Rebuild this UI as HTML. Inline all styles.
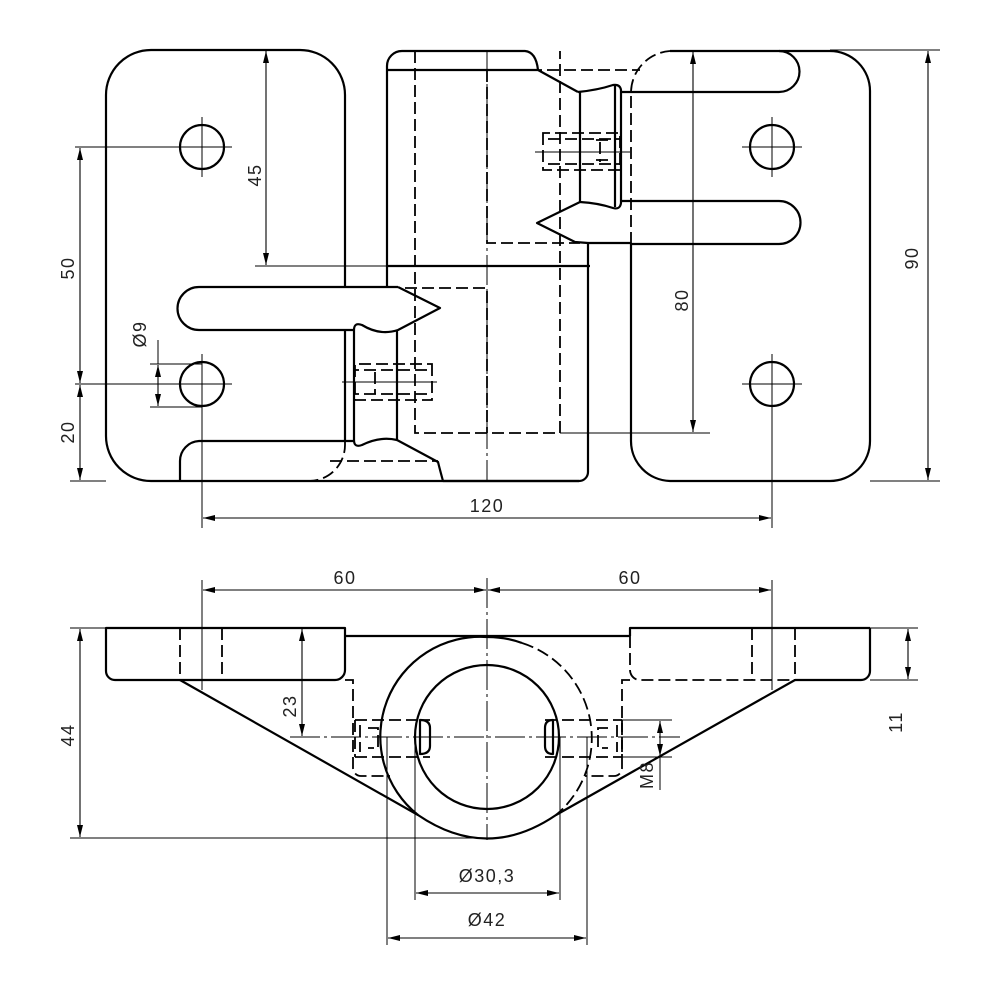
<!DOCTYPE html>
<html><head><meta charset="utf-8"><style>
html,body{margin:0;padding:0;background:#fff}
svg{display:block}
text{font-family:"Liberation Sans",sans-serif;font-size:18px;fill:#222;letter-spacing:1.5px}
</style></head><body>
<svg width="1000" height="1000" viewBox="0 0 1000 1000" xmlns="http://www.w3.org/2000/svg">
<defs>
<marker id="a" viewBox="0 0 12 6" refX="12" refY="3" markerWidth="12" markerHeight="6" orient="auto-start-reverse" markerUnits="userSpaceOnUse"><path d="M0,0 L12,3 L0,6z" fill="#000"/></marker>
</defs>
<g fill="none" stroke="#000" stroke-width="2.2" stroke-linejoin="round">
<path d="M345,288 L345,95 A45,45 0 0 0 300,50 L151,50 A45,45 0 0 0 106,95 L106,436 A45,45 0 0 0 151,481 L579,481"/>
<path d="M345,330 L345,441"/>
<path d="M398,287 L199,287 A21,21 0 0 0 199,330 L355,330"/>
<path d="M355,441 L199,441 A20,20 0 0 0 180,461 L180,481"/>
<path d="M670,51 L830,51 A40,40 0 0 1 870,91 L870,441 A40,40 0 0 1 830,481 L670,481 A40,40 0 0 1 631,441 L631,244"/>
<path d="M620,92 L779,92 A20.5,20.5 0 0 0 779,51"/>
<path d="M588,243 L631,243 M620,201 L779,201 A21.5,21.5 0 0 1 779,244 L631,244"/>
<path d="M387,288 L387,66 A15,15 0 0 1 402,51 L525,51 Q536,52 538,70"/>
<path d="M387,70 L538,70 L578,92"/>
<path d="M387,266 L590,266"/>
<path d="M588,243 L588,472 A9,9 0 0 1 579,481 L443,481 Q440,470 438,462 L397,440"/>
<path d="M580,92 L580,202 M578,92 Q598,90 613,85 Q620,84 621,90 L621,203 Q620,210 613,208 Q598,203 580,202"/>
<path d="M615,86 L615,207"/>
<path d="M580,202 L537,223 L575,242 L588,243"/>
<path d="M398,287 L440,308 L398,330 Q380,336 362,325 Q354,322 354,330 L354,440 Q354,448 362,445 Q380,436 397,440 L397,330"/>
<circle cx="202" cy="147" r="22"/><circle cx="202" cy="384" r="22"/>
<circle cx="772" cy="147" r="22"/><circle cx="772" cy="384" r="22"/>
</g>
<g fill="none" stroke="#000" stroke-width="1.8" stroke-dasharray="12,5">
<path d="M415,51 L415,433 L560,433 L560,51"/>
<path d="M487,70 L487,243 L580,243"/>
<path d="M530,70 L640,70"/>
<path d="M405,288 L487,288 L487,433"/>
<path d="M330,461 L438,461"/>
<path d="M345,441 L345,445 A36,36 0 0 1 309,481"/>
<path d="M631,244 L631,92 A42,42 0 0 1 670,51"/>
<path d="M543,133 L543,170 L620,170 L620,133 Z M548,139 L620,139 M548,164 L620,164 M600,142 L600,162 M596,140 L610,140 M596,160 L610,160"/>
<path d="M432,364 L432,400 L355,400 L355,364 Z M427,370 L355,370 M427,394 L355,394 M375,372 L375,394"/>
</g>
<g fill="none" stroke="#000" stroke-width="1" stroke-dasharray="30,4,3,4">
<path d="M487,50 L487,481"/>
</g>
<g fill="none" stroke="#000" stroke-width="1">
<path d="M172,147 L232,147 M202,117 L202,177 M742,147 L802,147 M772,117 L772,177 M742,384 L802,384 M772,354 L772,528"/>
<path d="M172,384 L232,384 M202,354 L202,528"/>
<path d="M535,152 L630,152 M342,382 L437,382"/>
<path d="M255,266 L387,266"/>
<path d="M75,147 L202,147 M75,384 L202,384 M70,481 L106,481 M150,364 L202,364 M150,407 L202,407"/>
<path d="M560,433 L710,433 M830,50 L940,50 M870,481 L940,481"/>
<path d="M158,340 L158,364"/>
<path d="M660,757 L660,790"/>
</g>
<g fill="none" stroke="#000" stroke-width="1.1" marker-start="url(#a)" marker-end="url(#a)">
<path d="M266,51 L266,265"/>
<path d="M80,148 L80,383"/>
<path d="M80,385 L80,480"/>
<path d="M693,52 L693,432"/>
<path d="M928,51 L928,480"/>
<path d="M203,518 L771,518"/>
<path d="M203,590 L486,590"/>
<path d="M488,590 L771,590"/>
<path d="M80,629 L80,837"/>
<path d="M302,629 L302,736"/>
<path d="M908,629 L908,679"/>
<path d="M416,893 L559,893"/>
<path d="M388,938 L586,938"/>
<path d="M158,365 L158,406"/>
<path d="M660,721 L660,756"/>
</g>
<g fill="none" stroke="#000" stroke-width="2.2" stroke-linejoin="round">
<path d="M106,628 L345,628 L345,670 A10,10 0 0 1 335,680 L115,680 A9,9 0 0 1 106,671 Z"/>
<path d="M870,628 L630,628 L630,636"/>
<path d="M870,628 L870,671 A9,9 0 0 1 861,680 L795,680"/>
<path d="M345,636 L630,636"/>
<path d="M180,680 L418,815 Q487,862 556,815 L795,680"/>
<path d="M487,637 A100,100 0 0 0 418,815 M487,637 A100,100 0 0 1 522,643"/>
<circle cx="487" cy="737" r="72"/>
<path d="M420,720 Q430,720 430,728 L430,746 Q430,754 420,754 Z"/>
<path d="M553,720 Q545,720 545,728 L545,746 Q545,754 553,754 Z"/>
</g>
<g fill="none" stroke="#000" stroke-width="1.8" stroke-dasharray="12,5">
<path d="M522,643 A100,100 0 0 1 556,815"/>
<path d="M180,628 L180,680 M222,628 L222,680 M752,628 L752,680 M795,628 L795,680"/>
<path d="M630,636 L630,670 A10,10 0 0 0 640,680 L795,680"/>
<path d="M345,680 L353,680 L353,768 A8,8 0 0 0 361,776 L390,776"/>
<path d="M630,680 L622,680 L622,768 A8,8 0 0 1 614,776 L585,776"/>
<path d="M355,720 L430,720 M355,757 L430,757 M355,720 L355,757 M360,725 L360,752 M545,720 L622,720 M545,757 L622,757 M622,720 L622,757 M617,725 L617,752"/>
<path d="M368,728 L378,728 L378,748 L368,748 M608,728 L598,728 L598,748 L608,748"/>
</g>
<g fill="none" stroke="#000" stroke-width="1" stroke-dasharray="30,4,3,4">
<path d="M290,737 L680,737 M487,578 L487,840"/>
</g>
<g fill="none" stroke="#000" stroke-width="1">
<path d="M202,580 L202,690 M772,580 L772,690"/>
<path d="M70,628 L106,628 M70,838 L487,838 M870,628 L918,628 M870,680 L918,680"/>
<path d="M622,720 L672,720 M622,757 L672,757"/>
<path d="M415,737 L415,900 M560,737 L560,900 M387,737 L387,945 M587,737 L587,945"/>
</g>
<text transform="translate(261,175) rotate(-90)" text-anchor="middle">45</text>
<text transform="translate(74,268) rotate(-90)" text-anchor="middle">50</text>
<text transform="translate(74,432) rotate(-90)" text-anchor="middle">20</text>
<text transform="translate(146,334) rotate(-90)" text-anchor="middle">Ø9</text>
<text transform="translate(688,300) rotate(-90)" text-anchor="middle">80</text>
<text transform="translate(918,258) rotate(-90)" text-anchor="middle">90</text>
<text x="487" y="512" text-anchor="middle">120</text>
<text x="345" y="584" text-anchor="middle">60</text>
<text x="630" y="584" text-anchor="middle">60</text>
<text transform="translate(74,735) rotate(-90)" text-anchor="middle">44</text>
<text transform="translate(296,706) rotate(-90)" text-anchor="middle">23</text>
<text transform="translate(902,722) rotate(-90)" text-anchor="middle">11</text>
<text transform="translate(653,775) rotate(-90)" text-anchor="middle">M8</text>
<text x="487" y="882" text-anchor="middle">Ø30,3</text>
<text x="487" y="926" text-anchor="middle">Ø42</text>
</svg>
</body></html>
